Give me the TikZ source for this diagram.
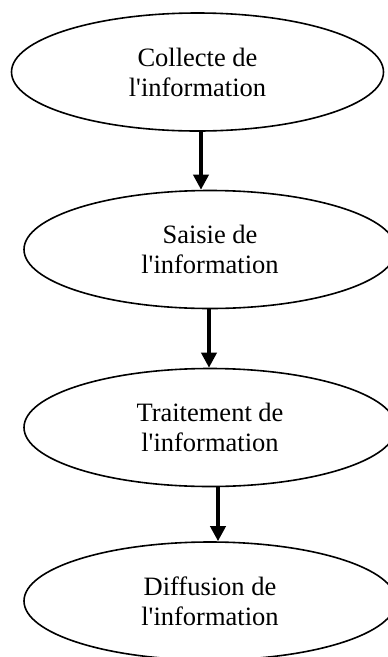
\documentclass[tikz,border=0pt]{standalone}
\usepackage{fontspec}
\setmainfont{Liberation Serif}[Ligatures=TeXOff]
\usetikzlibrary{shapes.geometric,arrows.meta}
\begin{document}
\begin{tikzpicture}[x=1pt,y=-1pt,
  stage/.style={ellipse,draw,line width=1.6pt,minimum width=372pt,minimum height=118pt,
    inner sep=0pt,align=center,font=\fontsize{26.5}{30}\selectfont},
  flow/.style={line width=3.6pt,-{Triangle[length=15pt,width=15pt]}}]
\useasboundingbox (0,0) rectangle (388,657);
\node[stage] (e1) at (197.5,72) {Collecte de\\l'information};
\node[stage] (e2) at (210,249.5) {Saisie de\\l'information};
\node[stage] (e3) at (210,427.5) {Traitement de\\l'information};
\node[stage] (e4) at (210,601) {Diffusion de\\l'information};
\draw[flow] ([xshift=3.5pt]e1.south) -- ([xshift=3.5pt]e1.south |- e2.north);
\draw[flow] ([xshift=-1pt]e2.south) -- ([xshift=-1pt]e2.south |- e3.north);
\draw[flow] ([xshift=8pt]e3.south) -- ([xshift=8pt]e3.south |- e4.north);
\end{tikzpicture}
\end{document}
